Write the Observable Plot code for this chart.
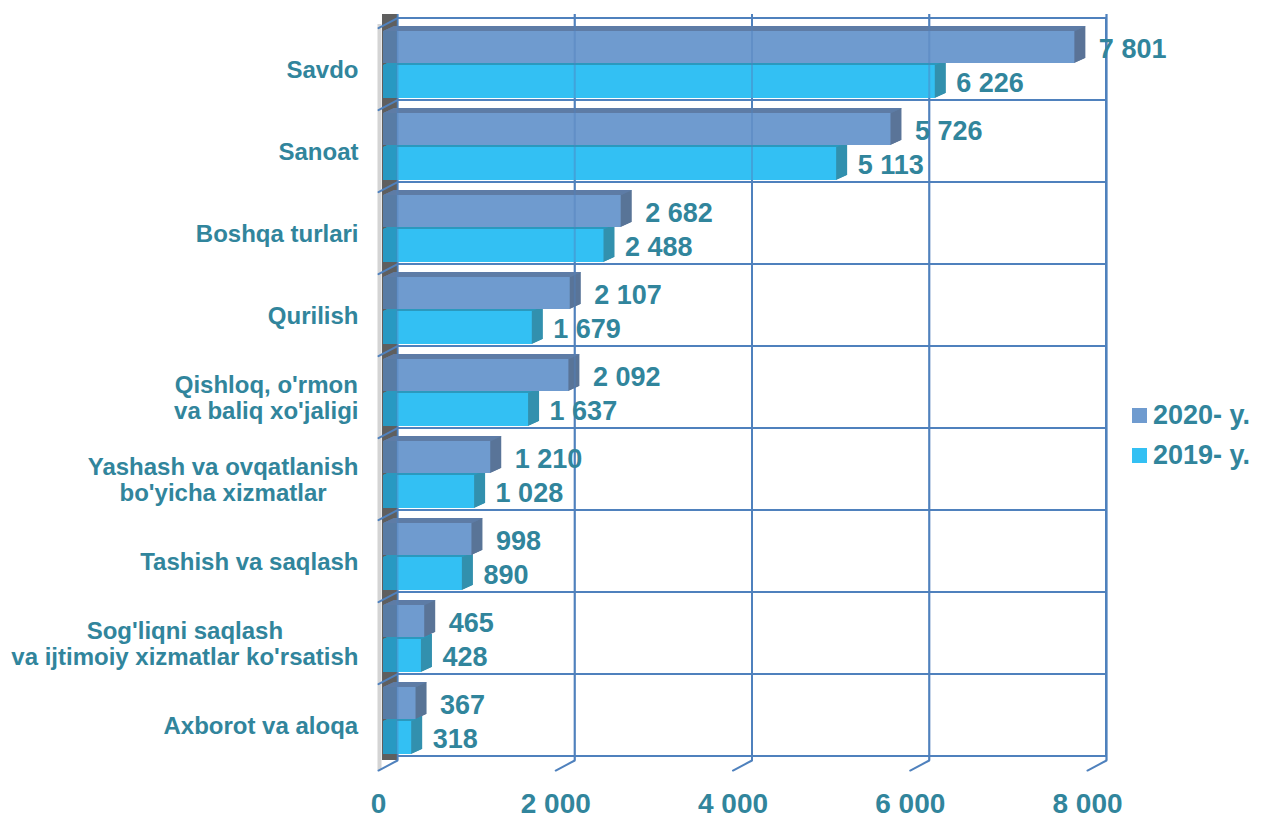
<!DOCTYPE html>
<html>
<head>
<meta charset="utf-8">
<script src="https://cdn.jsdelivr.net/npm/d3@7"></script>
<script src="https://cdn.jsdelivr.net/npm/@observablehq/plot@0.6"></script>
<style>
  html, body { margin: 0; padding: 0; background: #fff; }
  #wrap { position: relative; width: 1266px; height: 818px; font-family: "Liberation Sans", Arial, sans-serif; }
  #legend { position: absolute; left: 1132px; top: 395px; color: #31859C; font-weight: bold; font-size: 27px; }
  .item { display: flex; align-items: center; height: 40px; }
  .sw { width: 15px; height: 15px; margin-right: 6px; }
</style>
</head>
<body>
<div id="wrap">
  <div id="chart"></div>
  <div id="legend"></div>
</div>
<script>
// ---- data ----
const categories = [
  "Savdo",
  "Sanoat",
  "Boshqa turlari",
  "Qurilish",
  "Qishloq, o'rmon\nva baliq xo'jaligi",
  "Yashash va ovqatlanish\nbo'yicha xizmatlar",
  "Tashish va saqlash",
  "Sog'liqni saqlash\nva ijtimoiy xizmatlar ko'rsatish",
  "Axborot va aloqa"
];
const values2020 = [7801, 5726, 2682, 2107, 2092, 1210, 998, 465, 367];
const values2019 = [6226, 5113, 2488, 1679, 1637, 1028, 890, 428, 318];
const xTicks = [0, 2000, 4000, 6000, 8000];
const seriesNames = ["2020- y.", "2019- y."];

// ---- styling ----
const textColor = "#31859C";
const gridColor = "#4F81BD";
const c2020 = {front: "#6F9BCF", side: "#5A7598", top: "#6687B6"};
const c2019 = {front: "#33C0F3", side: "#3391AE", top: "#2AA3CF"};

const W = 1266, H = 818, mT = 14, mB = 58, mL = 397, mR = 160;
const bw = (H - mT - mB) / categories.length;

const fmt = d3.formatLocale({thousands: " ", grouping: [3], decimal: ",", currency: ["", ""]}).format(",");

const rows2020 = categories.map((c, i) => ({category: c, value: values2020[i]}));
const rows2019 = categories.map((c, i) => ({category: c, value: values2019[i]}));

const shiftX = -14;      // bar front face offset from back wall
const depthX = 11, depthY = 5;

function extrusion(data, col, insetTop, insetBottom) {
  const marks = [];
  const steps = 22;
  for (let s = steps; s >= 1; s--) {
    const k = s / steps;
    marks.push(Plot.barX(data, {x: "value", y: "category", fill: col.side,
      insetTop, insetBottom, dx: shiftX + k * depthX, dy: -k * depthY}));
    marks.push(Plot.barX(data, {x: "value", y: "category", fill: col.top,
      insetTop, insetBottom: bw - insetTop - 1.2, dx: shiftX + k * depthX, dy: -k * depthY}));
  }
  return marks;
}
function front(data, col, insetTop, insetBottom) {
  return [
    Plot.barX(data, {x: "value", y: "category", fill: col.front, insetTop, insetBottom, dx: shiftX}),
    Plot.barX(data, {x1: () => 0, x2: () => 0, y: "category", fill: "#000", fillOpacity: 0.2,
      insetTop, insetBottom, insetLeft: shiftX})
  ];
}

const in20 = {t: 13, b: 37};
const in19 = {t: 47, b: 2};

const diag = {draw(context, l) { context.moveTo(0, 0); context.lineTo(0, -l); }};

const chart = Plot.plot({
  width: W, height: H,
  marginTop: mT, marginBottom: mB, marginLeft: mL, marginRight: mR,
  style: {fontFamily: "'Liberation Sans', Arial, sans-serif", overflow: "visible"},
  x: {domain: [0, 8000], axis: null, label: null},
  y: {domain: categories, padding: 0, axis: null, label: null},
  marks: [
    // back grid
    Plot.barX(categories, {x1: () => 0, x2: () => 8000, y: d => d, fill: "none", stroke: gridColor, strokeWidth: 2}),
    Plot.ruleX(xTicks, {x: d => d, stroke: gridColor, strokeWidth: 2}),
    // left wall
    Plot.ruleX([0], {x: d => d, dx: -8, stroke: "#5F5F5F", strokeWidth: 15}),
    Plot.ruleX([0], {x: d => d, dx: -18, dy: 10, stroke: "#D4D4D4", strokeWidth: 4}),
    // floor and wall diagonals
    Plot.vector(xTicks, {x: d => d, frameAnchor: "bottom", length: 21.5, rotate: 242.2, anchor: "start",
      shape: diag, stroke: gridColor, strokeWidth: 2}),
    Plot.vector(categories, {x: () => 0, y: d => d, dy: -bw / 2, length: 21.5, rotate: 242.2, anchor: "start",
      shape: diag, stroke: gridColor, strokeWidth: 2}),
    // bars
    ...extrusion(rows2019, c2019, in19.t, in19.b),
    ...extrusion(rows2020, c2020, in20.t, in20.b),
    ...front(rows2020, c2020, in20.t, in20.b),
    ...front(rows2019, c2019, in19.t, in19.b),
    // grid seen through bars
    Plot.ruleX(xTicks, {x: d => d, stroke: gridColor, strokeWidth: 2, strokeOpacity: 0.45}),
    // value labels
    Plot.text(rows2020, {x: "value", y: "category", text: d => fmt(d.value), dx: 10, dy: -10,
      textAnchor: "start", fill: textColor, fontSize: 27, fontWeight: "bold"}),
    Plot.text(rows2019, {x: "value", y: "category", text: d => fmt(d.value), dx: 7, dy: 24,
      textAnchor: "start", fill: textColor, fontSize: 27, fontWeight: "bold"}),
    // axes
    Plot.axisX(xTicks, {tickSize: 0, tickPadding: 33, dx: -19, tickFormat: fmt, label: null,
      fill: textColor, fontSize: 28, fontWeight: "bold"}),
    Plot.axisY({tickSize: 0, tickPadding: 39, dy: 10, lineHeight: 1.08, label: null,
      fill: textColor, fontSize: 24, fontWeight: "bold"})
  ]
});

document.getElementById("chart").append(chart);

// center multi-line category labels around their block
const g = chart.querySelector('g[aria-label="y-axis tick label"]');
if (g) {
  g.querySelectorAll("text").forEach(t => {
    const w = t.getBBox().width;
    t.setAttribute("text-anchor", "middle");
    const tr = t.getAttribute("transform") || "";
    t.setAttribute("transform", tr + ` translate(${-w / 2},0)`);
  });
}

// legend
const legend = document.getElementById("legend");
[[seriesNames[0], c2020.front], [seriesNames[1], c2019.front]].forEach(([name, col]) => {
  const it = document.createElement("div");
  it.className = "item";
  const sw = document.createElement("span");
  sw.className = "sw";
  sw.style.background = col;
  const tx = document.createElement("span");
  tx.textContent = name;
  it.append(sw, tx);
  legend.append(it);
});
</script>
</body>
</html>
